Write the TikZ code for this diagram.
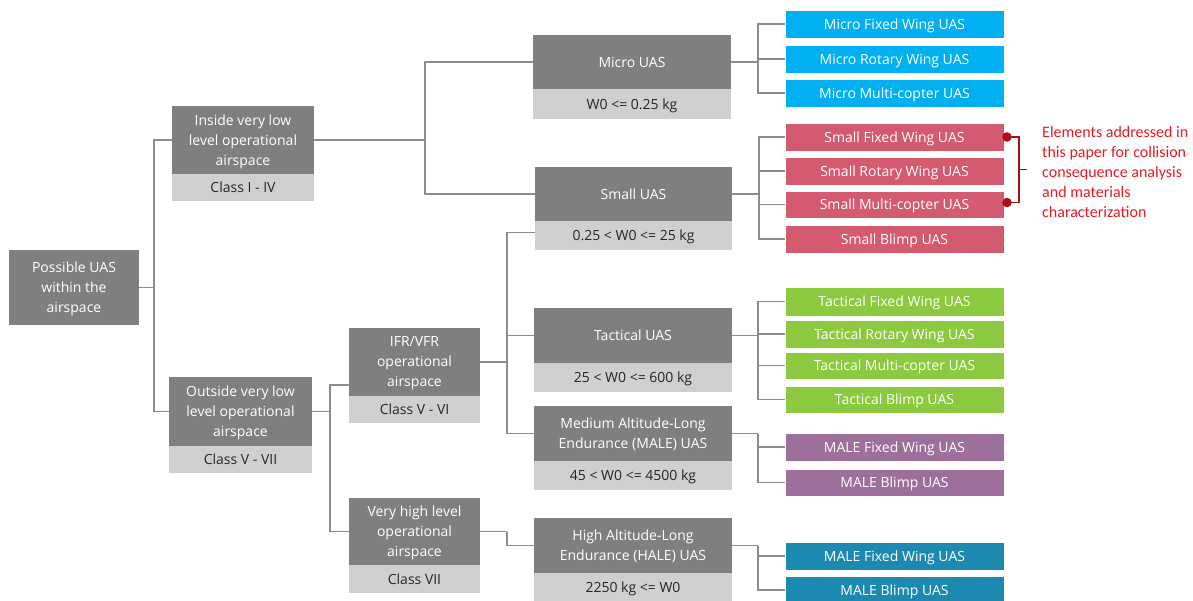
\documentclass[tikz,border=0pt]{standalone}
\usepackage{fontspec}
\usetikzlibrary{calc}
\setmainfont{Open Sans}
\newfontfamily\carl{Carlito}
\definecolor{dk}{HTML}{7F7F7F}
\definecolor{lt}{HTML}{CFCFCF}
\definecolor{ln}{HTML}{8C8C8C}
\definecolor{cmicro}{HTML}{00B0F0}
\definecolor{csmall}{HTML}{D45B6F}
\definecolor{ctac}{HTML}{8BC93E}
\definecolor{cmale}{HTML}{9D6F9D}
\definecolor{chale}{HTML}{1C8AB0}
\definecolor{rtxt}{HTML}{E31B23}
\definecolor{rdot}{HTML}{A80F17}
\begin{document}
\begin{tikzpicture}[x=1pt,y=-1pt,
  base/.style={inner sep=0pt,outer sep=0pt,align=center,text depth=0pt,font=\fontsize{14}{20}\selectfont},
  dbox/.style={base,fill=dk,text=white},
  lbox/.style={base,fill=lt,text=black!85},
  leaf/.style={base,text=white,minimum width=219pt,draw=white,line width=0.6pt},
  conn/.style={draw=ln,line width=1.5pt}]
\useasboundingbox (0,0) rectangle (1193,601);
% level 0
\node[dbox,minimum width=130pt,minimum height=75pt] (root) at (74,287.5) {Possible UAS\\within the\\airspace};
% level 1
\node[dbox,minimum width=142pt,minimum height=68pt] (ins) at (243,140) {Inside very low\\level operational\\airspace};
\node[lbox,minimum width=142pt,minimum height=27pt] (insc) at (243,187.5) {Class I - IV};
\node[dbox,minimum width=143pt,minimum height=69pt] (out) at (240.5,411.5) {Outside very low\\level operational\\airspace};
\node[lbox,minimum width=143pt,minimum height=27pt] (outc) at (240.5,459.5) {Class V - VII};
% level 2
\node[dbox,minimum width=131pt,minimum height=68pt] (ifr) at (414.5,362) {IFR/VFR\\operational\\airspace};
\node[lbox,minimum width=131pt,minimum height=27pt] (ifrc) at (414.5,409.5) {Class V - VI};
\node[dbox,minimum width=131pt,minimum height=67pt] (vh) at (414.5,531.5) {Very high level\\operational\\airspace};
\node[lbox,minimum width=131pt,minimum height=28pt] (vhc) at (414.5,579) {Class VII};
% level 3
\node[dbox,minimum width=198pt,minimum height=54pt] (micro) at (632,62) {Micro UAS};
\node[lbox,minimum width=198pt,minimum height=30pt] (microc) at (632,104) {W0 <= 0.25 kg};
\node[dbox,minimum width=197pt,minimum height=54pt] (small) at (633.5,194) {Small UAS};
\node[lbox,minimum width=197pt,minimum height=29pt] (smallc) at (633.5,235.5) {0.25 < W0 <= 25 kg};
\node[dbox,minimum width=198pt,minimum height=55pt] (tac) at (633,335.5) {Tactical UAS};
\node[lbox,minimum width=198pt,minimum height=29pt] (tacc) at (633,377.5) {25 < W0 <= 600 kg};
\node[dbox,minimum width=198pt,minimum height=55pt] (male) at (633,433.5) {Medium Altitude-Long\\Endurance (MALE) UAS};
\node[lbox,minimum width=198pt,minimum height=29pt] (malec) at (633,475.5) {45 < W0 <= 4500 kg};
\node[dbox,minimum width=198pt,minimum height=55pt] (hale) at (633,545.5) {High Altitude-Long\\Endurance (HALE) UAS};
\node[lbox,minimum width=198pt,minimum height=28pt] (halec) at (633,587) {2250 kg <= W0};
% leaves
\node[leaf,fill=cmicro,minimum height=28pt] (mfw) at (894.5,24) {Micro Fixed Wing UAS};
\node[leaf,fill=cmicro,minimum height=28pt] (mrw) at (894.5,59) {Micro Rotary Wing UAS};
\node[leaf,fill=cmicro,minimum height=28pt] (mmc) at (894.5,93) {Micro Multi-copter UAS};
\node[leaf,fill=csmall,minimum height=28pt] (sfw) at (894.5,137) {Small Fixed Wing UAS};
\node[leaf,fill=csmall,minimum height=28pt] (srw) at (894.5,171) {Small Rotary Wing UAS};
\node[leaf,fill=csmall,minimum height=27pt] (smc) at (894.5,204.5) {Small Multi-copter UAS};
\node[leaf,fill=csmall,minimum height=28pt] (sbl) at (894.5,239) {Small Blimp UAS};
\node[leaf,fill=ctac,minimum height=29pt] (tfw) at (894.5,301.5) {Tactical Fixed Wing UAS};
\node[leaf,fill=ctac,minimum height=28pt] (trw) at (894.5,334) {Tactical Rotary Wing UAS};
\node[leaf,fill=ctac,minimum height=27pt] (tmc) at (894.5,365.5) {Tactical Multi-copter UAS};
\node[leaf,fill=ctac,minimum height=27pt] (tbl) at (894.5,399.5) {Tactical Blimp UAS};
\node[leaf,fill=cmale,minimum height=28pt] (mafw) at (894.5,447) {MALE Fixed Wing UAS};
\node[leaf,fill=cmale,minimum height=27pt] (mabl) at (894.5,482.5) {MALE Blimp UAS};
\node[leaf,fill=chale,minimum height=28pt] (hafw) at (894.5,556) {MALE Fixed Wing UAS};
\node[leaf,fill=chale,minimum height=28pt] (habl) at (894.5,590) {MALE Blimp UAS};
% connectors
\draw[conn] (root.east) -- ++(15,0) coordinate (j0);
\draw[conn] (j0) |- (ins.west);
\draw[conn] (j0) |- (out.west);
\draw[conn] (ins.east) -- ++(111,0) coordinate (j1);
\draw[conn] (j1) |- (micro.west);
\draw[conn] (j1) |- (small.west);
\draw[conn] (out.east) -- ++(18,0) coordinate (j2);
\draw[conn] (j2) |- ([yshift=-23pt]ifr.west);
\draw[conn] (j2) |- (vh.west);
\draw[conn] (ifr.east) -- ++(27,0) coordinate (j3);
\draw[conn] (j3) |- ([yshift=3pt]smallc.west);
\draw[conn] (j3) |- (tac.west);
\draw[conn] (j3) |- (male.west);
\draw[conn] (vh.east) -- ++(27,0) coordinate (j4);
\draw[conn] (j4) |- (hale.west);
\draw[conn] (micro.east) -- ++(27,0) coordinate (k1);
\foreach \n in {mfw,mrw,mmc} \draw[conn] (k1) |- (\n.west);
\draw[conn] (small.east) -- ++(27,0) coordinate (k2);
\foreach \n in {sfw,srw,smc,sbl} \draw[conn] (k2) |- (\n.west);
\draw[conn] (tac.east) -- ++(26,0) coordinate (k3);
\foreach \n in {tfw,trw,tmc,tbl} \draw[conn] (k3) |- (\n.west);
\draw[conn] (male.east) -- ++(26,0) coordinate (k4);
\foreach \n in {mafw,mabl} \draw[conn] (k4) |- (\n.west);
\draw[conn] (hale.east) -- ++(26,0) coordinate (k5);
\foreach \n in {hafw,habl} \draw[conn] (k5) |- (\n.west);
% annotation
\coordinate (d1) at ([xshift=3pt]sfw.east);
\coordinate (d2) at ([xshift=3pt,yshift=2pt]smc.east);
\draw[draw=rdot,line width=1.5pt] (d1) -- ++(12,0) coordinate (b1) -- (b1 |- d2) -- (d2);
\coordinate (bm) at ($(b1)!0.5!(b1 |- d2)$);
\fill[rdot] (d1) circle (4.8pt);
\fill[rdot] (d2) circle (4.8pt);
\node[anchor=west,align=left,inner sep=0pt,text=rtxt,font=\carl\fontsize{16}{20}\selectfont] (note) at (1042,172) {Elements addressed in\\this paper for collision\\consequence analysis\\and materials\\characterization};
\draw[draw=rdot,line width=1.5pt] (bm) -- ++(8,0);
\end{tikzpicture}
\end{document}
